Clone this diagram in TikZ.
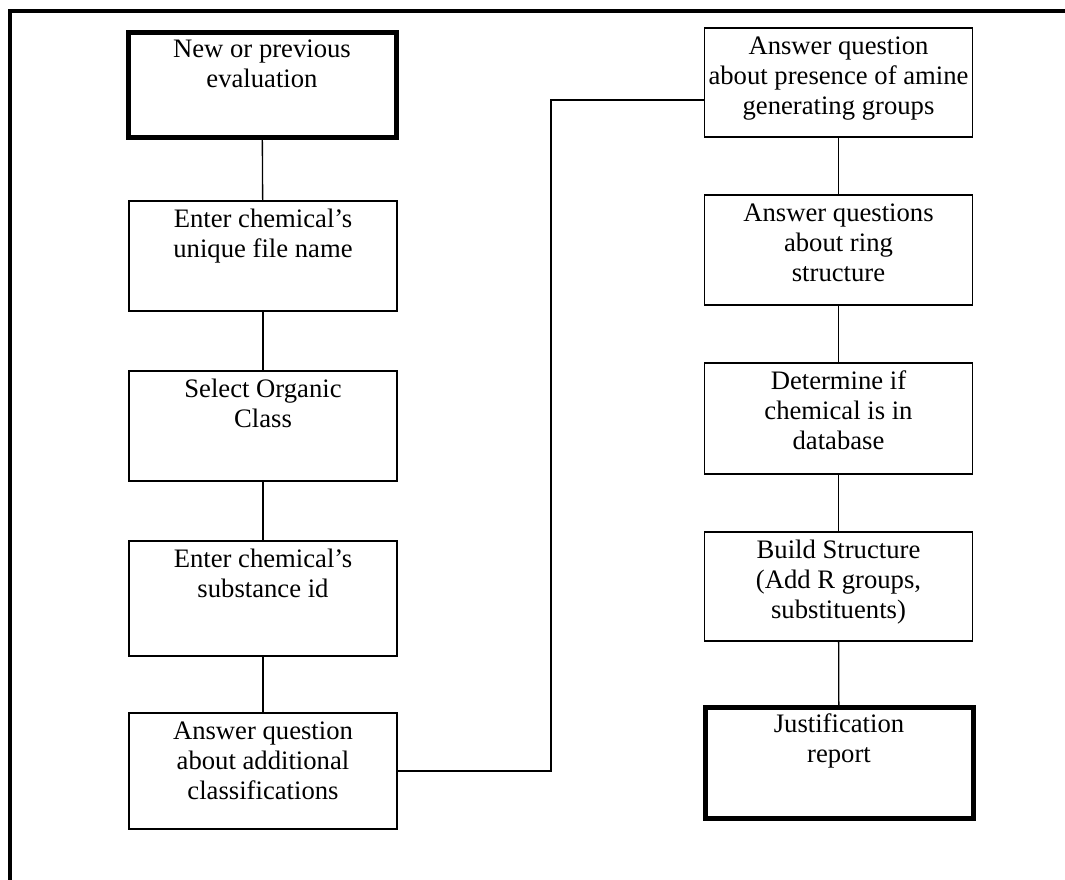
\documentclass[tikz,border=0pt]{standalone}
\usepackage{fontspec}
\setmainfont{Liberation Serif}
% strut that fixes the first baseline below the top edge of a box
\newcommand\boxstrut{\rule{0pt}{20.25pt}}
\begin{document}
\begin{tikzpicture}[x=0.75pt,y=-0.75pt,
  stepbox/.style={draw, line width=1.2pt, minimum width=201pt, inner sep=0pt},
  endbox/.style={stepbox, line width=3.75pt},
  boxtext/.style={anchor=north, inner sep=0pt, align=center,
                  font=\fontsize{20pt}{22.5pt}\selectfont},
  link/.style={line width=1pt},
  frameline/.style={line width=3pt}]
\useasboundingbox (0,0) rectangle (1065,880);

% page frame (top and left edges)
\draw[frameline] (1065,11.5) -- (9.5,11.5) -- (9.5,880);

% left column
\node[endbox,  minimum height=78.75pt] (b1) at (262,85)    {};
\node[stepbox, minimum height=82.5pt]  (b2) at (263,256)   {};
\node[stepbox, minimum height=82.5pt]  (b3) at (263,426)   {};
\node[stepbox, minimum height=86.25pt] (b4) at (263,598.5) {};
\node[stepbox, minimum height=87pt]    (b5) at (263,771)   {};

% right column
\node[stepbox, minimum height=81.75pt] (b6)  at (838.5,82.5)  {};
\node[stepbox, minimum height=82.5pt]  (b7)  at (838.5,250)   {};
\node[stepbox, minimum height=83.25pt] (b8)  at (838.5,418.5) {};
\node[stepbox, minimum height=81.75pt] (b9)  at (838.5,586.5) {};
\node[endbox,  minimum height=83.25pt] (b10) at (839,763)     {};

% box texts
\node[boxtext] (t1)  at (b1.north)  {\boxstrut New or previous\\evaluation};
\node[boxtext] (t2)  at (b2.north)  {\boxstrut Enter chemical’s\\unique file name};
\node[boxtext] (t3)  at (b3.north)  {\boxstrut Select Organic\\Class};
\node[boxtext] (t4)  at (b4.north)  {\boxstrut Enter chemical’s\\substance id};
\node[boxtext] (t5)  at (b5.north)  {\boxstrut Answer question\\about additional\\classifications};
\node[boxtext] (t6)  at (b6.north)  {\boxstrut Answer question\\about presence of amine\\generating groups};
\node[boxtext] (t7)  at (b7.north)  {\boxstrut Answer questions\\about ring\\structure};
\node[boxtext] (t8)  at (b8.north)  {\boxstrut Determine if\\chemical is in\\database};
\node[boxtext] (t9)  at (b9.north)  {\boxstrut Build Structure\\(Add R groups,\\substituents)};
\node[boxtext] (t10) at (b10.north) {\boxstrut Justification\\report};

% connectors
\draw[link] (b1) -- (b2);
\draw[link] (b2) -- (b3);
\draw[link] (b3) -- (b4);
\draw[link] (b4) -- (b5);
\coordinate (bend) at (551,100);
\draw[link] (b5.east) -| (bend) -- (bend -| b6.west);
\draw[link] (b6) -- (b7);
\draw[link] (b7) -- (b8);
\draw[link] (b8) -- (b9);
\draw[link] (b9) -- (b10);
\end{tikzpicture}
\end{document}
